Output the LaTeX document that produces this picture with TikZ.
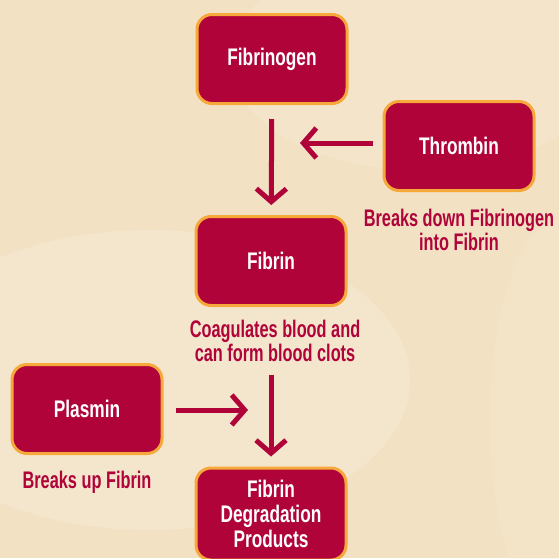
\documentclass[tikz,border=0pt]{standalone}
\usepackage{fontspec}
\setmainfont[FakeStretch=0.72]{Liberation Sans}
\newfontfamily\notefont[FakeStretch=0.68]{Liberation Sans}
\usetikzlibrary{arrows.meta}
\definecolor{FBCrimson}{HTML}{B0033A}
\definecolor{FBOrange}{HTML}{F6A83A}
\definecolor{FBBack}{HTML}{F2E1C3}
\definecolor{FBCell}{HTML}{F7EBD5}
\tikzset{
  factor/.style={draw=FBOrange,line width=3pt,fill=FBCrimson,rounded corners=15pt,
    minimum width=150pt,minimum height=89pt,text=white,align=center,
    font=\fontsize{24}{25}\selectfont\bfseries},
  note/.style={text=FBCrimson,align=center,font=\notefont\fontsize{24}{24}\selectfont\bfseries},
  flow/.style={draw=FBCrimson,line width=5pt,-{Straight Barb[length=13pt,width=30pt]}}
}
\begin{document}
\begin{tikzpicture}[x=1pt,y=-1pt]
\fill[FBBack] (0,0) rectangle (559,558);
\useasboundingbox (0,0) rectangle (559,558);
\fill[FBCell,opacity=0.5] (150,380) ellipse (260 and 150);
\fill[FBCell,opacity=0.4] (420,60) ellipse (190 and 110);
\fill[FBCell,opacity=0.3] (560,420) ellipse (70 and 200);
\node[factor] (fibrinogen) at (272,59) {Fibrinogen};
\node[factor] (thrombin) at (459,146) {Thrombin};
\node[factor] (fibrin) at (271,261) {Fibrin};
\node[factor] (plasmin) at (87,409) {Plasmin};
\node[factor,minimum height=92pt] (products) at (271,514) {Fibrin\\Degradation\\Products};
\node[note] (thrombinnote) at (459,230) {Breaks down Fibrinogen\\into Fibrin};
\node[note] (fibrinnote) at (275,341) {Coagulates blood and\\can form blood clots};
\node[note] (plasminnote) at (87,482) {Breaks up Fibrin};
\coordinate (thrombintip) at (300,143);
\coordinate (plasmintip) at (248,410);
\draw[flow,shorten <=14pt,shorten >=10pt] (fibrinogen) -- (fibrin);
\draw[flow,shorten <=10pt] (thrombin.west |- thrombintip) -- (thrombintip);
\draw[flow,shorten <=12pt] (plasmin.east |- plasmintip) -- (plasmintip);
\draw[flow,shorten <=10pt,shorten >=10pt] (fibrinnote.south -| products.north) -- (products.north);
\end{tikzpicture}
\end{document}
